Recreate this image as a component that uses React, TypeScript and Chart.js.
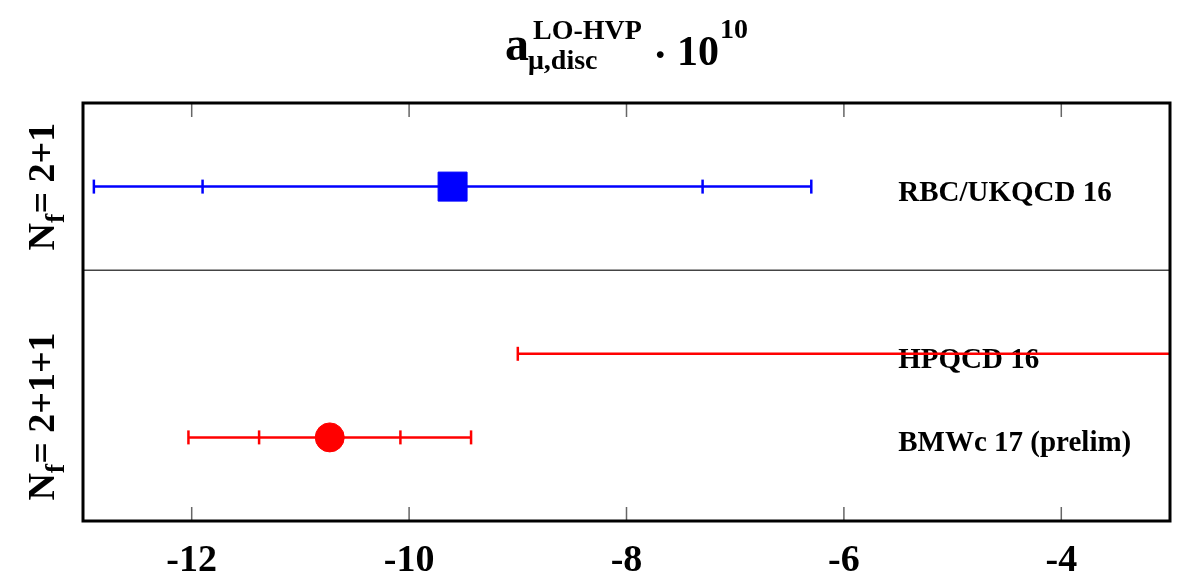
import React, { useEffect, useRef } from "react";
import { Chart, registerables } from "chart.js";

Chart.register(...registerables);

// ---- data ----
const xTicks = [-12, -10, -8, -6, -4];
const xMin = -13;
const xMax = -3;
const yMin = 0;
const yMax = 5;

const entryLabels = ["RBC/UKQCD 16", "HPQCD 16", "BMWc 17 (prelim)"];
const entryRows = [4, 2, 1];
const entryCenters = [-9.6, 0, -10.73];
const entryStatErr = [2.3, 9, 0.65];
const entryTotErr = [3.3, 9, 1.3];
const entryColors = ["#0000ff", "#ff0000", "#ff0000"];
const entryMarkers = ["rect", "", "circle"];

const groupLabels = ["2+1", "2+1+1"];
const groupRows = [4, 1.25];
const dividerRows = [3];
const entryLabelX = -5.5;

const FONT = "'Liberation Serif', 'Times New Roman', serif";

function buildDatasets() {
  const ds: any[] = [];
  entryCenters.forEach((c, i) => {
    const xs = Array.from(
      new Set([c - entryTotErr[i], c - entryStatErr[i], c + entryStatErr[i], c + entryTotErr[i]])
    ).sort((a, b) => a - b);
    ds.push({
      label: entryLabels[i] + " err",
      data: xs.map((x) => ({ x, y: entryRows[i] })),
      showLine: true,
      borderColor: entryColors[i],
      borderWidth: 2.5,
      pointStyle: "line",
      rotation: 90,
      pointRadius: 7,
      pointBorderColor: entryColors[i],
      pointBorderWidth: 2.5,
      clip: 0,
      order: 2,
    });
    if (entryMarkers[i]) {
      ds.push({
        label: entryLabels[i],
        data: [{ x: c, y: entryRows[i] }],
        showLine: false,
        pointStyle: entryMarkers[i],
        pointRadius: entryMarkers[i] === "rect" ? 20.5 : 14.5,
        backgroundColor: entryColors[i],
        pointBorderColor: entryColors[i],
        pointBorderWidth: 1,
        order: 1,
      });
    }
  });
  return ds;
}

const framePlugin = {
  id: "frame",
  beforeDatasetsDraw(chart: any) {
    const { ctx, chartArea } = chart;
    const xs = chart.scales.x;
    const ys = chart.scales.y;
    ctx.save();
    // divider
    ctx.strokeStyle = "#444";
    ctx.lineWidth = 1.5;
    dividerRows.forEach((r) => {
      const py = ys.getPixelForValue(r);
      ctx.beginPath();
      ctx.moveTo(chartArea.left, py);
      ctx.lineTo(chartArea.right, py);
      ctx.stroke();
    });
    // entry labels
    ctx.fillStyle = "#000";
    ctx.font = `bold 29px ${FONT}`;
    ctx.textAlign = "left";
    ctx.textBaseline = "alphabetic";
    entryLabels.forEach((t, i) => {
      ctx.fillText(t, xs.getPixelForValue(entryLabelX), ys.getPixelForValue(entryRows[i]) + 14);
    });
    ctx.restore();
  },
  afterDatasetsDraw(chart: any) {
    const { ctx, chartArea } = chart;
    const xs = chart.scales.x;
    ctx.save();
    // ticks
    ctx.strokeStyle = "#666";
    ctx.lineWidth = 1.5;
    xTicks.forEach((v) => {
      const px = xs.getPixelForValue(v);
      ctx.beginPath();
      ctx.moveTo(px, chartArea.bottom);
      ctx.lineTo(px, chartArea.bottom - 14);
      ctx.moveTo(px, chartArea.top);
      ctx.lineTo(px, chartArea.top + 14);
      ctx.stroke();
    });
    // border
    ctx.strokeStyle = "#000";
    ctx.lineWidth = 3;
    ctx.strokeRect(chartArea.left, chartArea.top, chartArea.right - chartArea.left, chartArea.bottom - chartArea.top);
    ctx.restore();
  },
  afterDraw(chart: any) {
    const { ctx } = chart;
    const ys = chart.scales.y;
    ctx.save();
    ctx.fillStyle = "#000";
    ctx.textBaseline = "alphabetic";
    ctx.textAlign = "left";
    // title
    ctx.font = `bold 48px ${FONT}`;
    ctx.fillText("a", 505, 60);
    ctx.font = `bold 28px ${FONT}`;
    ctx.fillText("LO-HVP", 533, 39);
    ctx.fillText("\u03bc,disc", 528, 69);
    ctx.font = `bold 42px ${FONT}`;
    ctx.fillText(".", 655, 58);
    ctx.fillText("10", 677, 65);
    ctx.font = `bold 28px ${FONT}`;
    ctx.fillText("10", 720, 38);
    // group labels (rotated)
    groupLabels.forEach((g, i) => {
      const cy = ys.getPixelForValue(groupRows[i]);
      ctx.save();
      ctx.translate(54, cy);
      ctx.rotate(-Math.PI / 2);
      ctx.font = `bold 38px ${FONT}`;
      const wN = ctx.measureText("N").width;
      const rest = "= " + g;
      const wR = ctx.measureText(rest).width;
      ctx.font = `bold 28px ${FONT}`;
      const wf = ctx.measureText("f").width;
      const w = wN + wf + wR;
      let x = -w / 2;
      ctx.font = `bold 38px ${FONT}`;
      ctx.fillText("N", x, 0);
      x += wN;
      ctx.font = `bold 28px ${FONT}`;
      ctx.fillText("f", x, 10);
      x += wf;
      ctx.font = `bold 38px ${FONT}`;
      ctx.fillText(rest, x, 0);
      ctx.restore();
    });
    ctx.restore();
  },
};

export default function App() {
  const ref = useRef<HTMLCanvasElement>(null);
  useEffect(() => {
    const chart = new Chart(ref.current!, {
      type: "scatter",
      data: { datasets: buildDatasets() },
      options: {
        animation: false,
        responsive: false,
        devicePixelRatio: 1,
        layout: { autoPadding: false, padding: { left: 83, right: 15, top: 103, bottom: 0 } },
        plugins: {
          legend: { display: false },
          tooltip: { enabled: false },
          title: { display: false },
        },
        scales: {
          x: {
            type: "linear",
            min: xMin,
            max: xMax,
            grid: { display: false },
            border: { display: false },
            afterBuildTicks: (axis: any) => {
              axis.ticks = xTicks.map((v) => ({ value: v }));
            },
            afterFit: (axis: any) => {
              axis.height = 59;
              axis.paddingLeft = 0;
              axis.paddingRight = 0;
            },
            ticks: {
              autoSkip: false,
              maxRotation: 0,
              padding: 9,
              color: "#000",
              font: { family: FONT, weight: "bold", size: 38 },
              callback: (v: any) => String(v),
            },
          },
          y: {
            type: "linear",
            min: yMin,
            max: yMax,
            display: false,
          },
        },
      },
      plugins: [framePlugin],
    } as any);
    return () => chart.destroy();
  }, []);
  return (
    <div style={{ position: "fixed", left: 0, top: 0, width: 1185, height: 580, background: "#fff" }}>
      <canvas ref={ref} width={1185} height={580} style={{ display: "block" }} />
    </div>
  );
}
